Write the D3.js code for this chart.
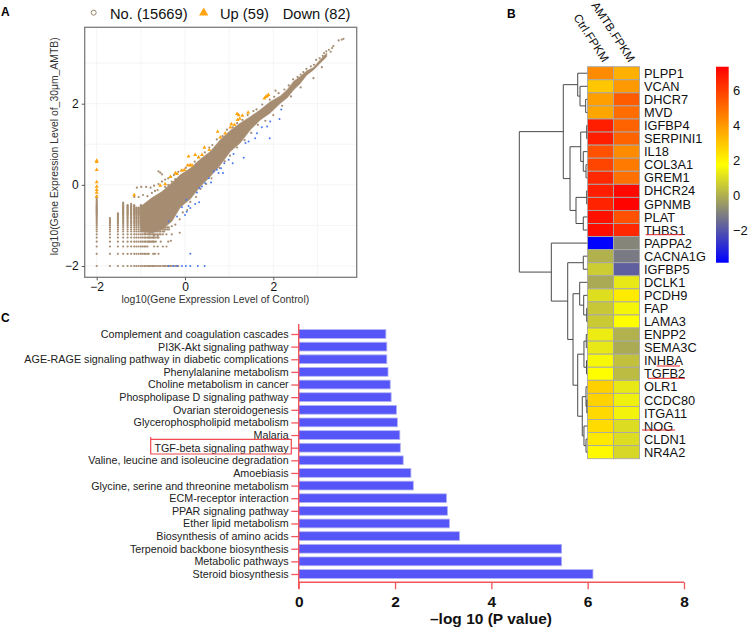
<!DOCTYPE html>
<html>
<head>
<meta charset="utf-8">
<script src="https://cdn.jsdelivr.net/npm/d3@7.9.0/dist/d3.min.js"></script>
<style>
  html, body { margin: 0; background: #fff; }
  svg { display: block; font-family: "Liberation Sans", Arial, sans-serif; }
</style>
</head>
<body>
<svg id="fig" width="749" height="629"></svg>
<script>
// panel A: scatter
const densityX = [-1.0, -0.75, -0.52, -0.295, -0.106, 0.12, 0.347, 0.573, 0.8, 1.026, 1.25, 1.48, 1.705, 1.93, 2.16, 2.31, 2.46, 2.61, 2.76, 2.91, 3.06, 3.21];
const densityLow = [-1.15, -1.18, -1.1, -0.9, -0.55, -0.35, -0.04, 0.205, 0.49, 0.82, 1.03, 1.355, 1.6, 1.77, 2.01, 2.14, 2.34, 2.5, 2.71, 2.83, 3.0, 3.16];
const densityHigh = [-0.53, -0.32, -0.165, 0.05, 0.246, 0.41, 0.63, 0.82, 1.11, 1.34, 1.52, 1.68, 1.85, 2.05, 2.19, 2.34, 2.55, 2.67, 2.81, 2.89, 3.08, 3.25];

const latticeCols = [-2, -1.7, -1.52, -1.4, -1.3, -1.22, -1.15, -1.1, -1.05, -1.0];
const latticeColTop = [-0.28, -0.82, -0.7, -0.43, -0.5, -0.45, -0.5, -0.55, -0.55, -0.5];
const latticeRows = [-2, -1.7, -1.52, -1.4, -1.3, -1.22, -1.15, -1.1, -1.05, -1.0, -0.96, -0.92, -0.89, -0.85, -0.82, -0.8, -0.77, -0.74, -0.72, -0.7, -0.68, -0.66, -0.64, -0.62, -0.6, -0.58, -0.56, -0.54, -0.52, -0.5, -0.47, -0.44, -0.41, -0.38, -0.35, -0.32, -0.28];
const rowExtraX = [-0.96, -0.92, -0.89, -0.85, -0.82, -0.8, -0.77, -0.74, -0.72, -0.7, -0.66, -0.62, -0.58, -0.55, -0.5, -0.47, -0.44, -0.4, -0.37, -0.33, -0.3, -0.26, -0.22, -0.18, -0.15];
const rowExtraMax = [[-2, -0.15], [-1.7, -0.82], [-1.52, -0.85], [-1.4, -0.64], [-1.3, -0.6], [-1.22, -0.52], [-1.15, -0.47], [-1.1, -0.4], [-1.05, -0.35]];

const brownDots = [
  [-1.09, -0.07], [-0.99, -0.05], [-0.88, -0.05], [-0.78, -0.07], [-0.62, -0.13], [-0.6, 0.33], [-0.56, 0.3], [-0.52, 0.26],
  [-1.15, -0.3], [-1.05, -0.3], [-0.95, -0.25], [-0.85, -0.28], [-0.75, -0.2], [-0.68, -0.15], [-0.7, -0.02], [-0.6, 0.02],
  [-0.52, 0.08], [-0.45, 0.13], [-0.38, 0.16], [-0.32, 0.2], [-0.25, 0.24], [-0.15, 0.32], [-0.08, 0.36], [0.02, 0.42],
  [0.1, 0.48], [0.22, 0.57], [0.3, 0.68], [0.45, 0.8], [0.55, 0.92], [0.62, 0.98], [0.72, 1.12], [0.85, 1.2],
  [0.95, 1.36], [1.08, 1.42], [1.18, 1.52], [1.3, 1.6], [1.42, 1.72], [1.55, 1.82], [1.62, 1.86], [1.75, 1.98],
  [1.92, 2.1], [2.02, 2.17], [2.05, 2.32], [2.12, 2.26], [2.25, 2.35], [2.35, 2.45], [2.45, 2.6], [2.55, 2.66],
  [2.62, 2.72], [2.68, 2.78], [2.75, 2.86], [2.85, 2.92], [2.92, 2.96], [2.97, 3.08], [3.05, 3.12], [3.12, 3.18],
  [3.15, 3.25], [3.2, 3.29], [3.26, 3.33], [3.33, 3.37], [3.36, 3.42], [3.48, 3.56], [3.55, 3.58], [3.59, 3.6],
  [3.3, 3.28], [3.1, 2.9], [2.91, 2.63], [2.62, 2.4], [2.4, 2.18], [2.2, 1.95], [2.0, 1.72], [1.82, 1.58],
  [1.65, 1.48], [1.5, 1.28], [1.35, 1.1], [1.18, 0.92], [1.02, 0.72], [0.9, 0.58], [0.78, 0.42], [0.6, 0.16],
  [0.48, 0.02], [0.35, -0.1], [0.25, -0.3], [0.12, -0.42], [0.05, -0.62], [-0.05, -0.68], [-0.12, -0.85], [-0.22, -0.98],
  [-0.12, -1.18], [-0.3, -1.02], [-0.36, -1.1], [-0.42, -1.22], [-0.3, -1.22], [-0.5, -1.22], [-0.6, -1.3], [-0.55, -1.4],
  [-0.62, -1.25], [-0.7, -1.25], [-0.8, -1.22], [-0.9, -1.2], [-0.38, -1.4], [-0.32, -1.38], [-0.5, -1.52], [-0.42, -1.52],
  [-0.7, -1.52], [-0.62, -1.52], [-0.72, -1.7], [-0.68, -1.7], [-0.6, -1.7], [-0.92, -0.52], [-0.85, -0.45], [-0.78, -0.4],
  [-0.68, -0.32], [-0.55, -0.25], [-0.45, -0.05], [-0.38, 0.0], [-0.3, 0.08], [-0.22, 0.14]
];

const upDots = [
  [-2, 0.6], [-2, 0.57], [-2, 0.37], [-2, 0.07], [-2, -0.04], [-2, -0.12], [-2, -0.19], [-2, -0.29],
  [-1.15, -0.25], [-0.56, -0.02], [-0.45, 0.02], [-0.33, 0.2], [-0.22, 0.29], [-0.18, 0.27], [-0.07, 0.35], [-0.015, 0.37],
  [0.06, 0.48], [0.12, 0.49], [0.16, 0.48], [0.08, 0.7], [0.23, 0.74], [0.31, 0.68], [0.385, 0.74], [0.44, 0.92],
  [0.55, 0.86], [0.74, 1.31], [0.8, 1.17], [0.91, 1.27], [1.03, 1.42], [1.05, 1.5], [1.12, 1.48], [1.18, 1.75],
  [1.215, 1.72], [1.19, 1.6], [1.24, 1.63], [1.3, 1.71], [1.43, 1.78], [1.8, 2.13], [1.86, 2.19], [1.89, 2.22], [1.83, 2.17]
];

const downDots = [
  [-0.37, -2], [-0.26, -2], [-0.18, -2], [-0.07, -2], [0.02, -2], [0.12, -2], [0.29, -2], [0.445, -2], [0.12, -1.7],
  [-0.37, -0.9], [-0.18, -0.78], [0.0, -0.74], [0.04, -0.66], [-0.07, -0.55], [0.08, -0.52], [0.12, -0.57], [0.03, -0.37],
  [0.23, -0.47], [0.32, -0.43], [0.27, -0.19], [0.33, -0.08], [0.385, -0.04], [0.46, 0.04], [0.54, 0.16], [0.59, 0.06],
  [0.65, 0.33], [0.72, 0.37], [0.76, 0.29], [0.815, 0.41], [0.86, 0.29], [0.89, 0.53], [0.99, 0.62], [1.08, 0.53],
  [1.1, 0.76], [1.33, 0.67], [1.37, 1.03], [1.44, 1.07], [1.59, 1.15], [1.63, 1.27], [1.74, 1.42], [1.86, 1.44],
  [1.92, 1.15], [1.93, 1.56], [2.14, 1.62], [2.18, 1.86]
];

const scatterTicks = [-2, 0, 2];
const scatterGrid = [-2, -1, 0, 1, 2, 3];

// panel B: heatmap
const genes = ['PLPP1', 'VCAN', 'DHCR7', 'MVD', 'IGFBP4', 'SERPINI1', 'IL18', 'COL3A1', 'GREM1', 'DHCR24', 'GPNMB', 'PLAT', 'THBS1', 'PAPPA2', 'CACNA1G', 'IGFBP5', 'DCLK1', 'PCDH9', 'FAP', 'LAMA3', 'ENPP2', 'SEMA3C', 'INHBA', 'TGFB2', 'OLR1', 'CCDC80', 'ITGA11', 'NOG', 'CLDN1', 'NR4A2'];
const ctrlValues = [4.3, 3.0, 3.85, 3.75, 6.7, 6.7, 5.6, 5.85, 6.5, 6.7, 6.6, 7.0, 7.1, -3.8, 0.05, 0.65, -0.1, 1.05, 0.55, 0.6, 1.35, 1.27, 1.6, 1.75, 2.8, 2.75, 2.6, 2.55, 2.25, 1.9];
const amtbValues = [3.5, 4.0, 5.35, 5.0, 5.2, 5.2, 4.3, 4.7, 4.9, 7.2, 7.3, 5.6, 6.5, -0.9, -1.15, -1.75, 1.27, 2.2, 1.55, 1.77, 0.05, -0.07, 0.4, 0.3, 1.27, 1.45, 1.5, 1.0, 1.0, 0.9];
const heatColumns = ['Ctrl.FPKM', 'AMTB.FPKM'];
const underlined = ['THBS1', 'INHBA', 'TGFB2', 'NOG'];
const colorTicks = [6, 4, 2, 0, -2];
const colorDomain = [-3.83, 1.77, 7.37];

// merge heights, [height, left, right], leaves are gene names
const geneTree = [100,
  [35.3,
    [14.1, 'PLPP1', [10.7, 'VCAN', [2.4, 'DHCR7', 'MVD']]],
    [25.4,
      [9.7, [0.9, 'IGFBP4', 'SERPINI1'], [5.9, 'IL18', [1.9, 'COL3A1', 'GREM1']]],
      [16.6, [0.9, 'DHCR24', 'GPNMB'], [5.9, 'PLAT', 'THBS1']]]],
  [52.9,
    'PAPPA2',
    [28.8,
      [5.9, 'CACNA1G', 'IGFBP5'],
      [21,
        [11.2, 'DCLK1', [5.3, 'PCDH9', [0.9, 'FAP', 'LAMA3']]],
        [14.1,
          [4.9, [1.5, 'ENPP2', 'SEMA3C'], [1.2, 'INHBA', 'TGFB2']],
          [7.4,
            [1.9, 'OLR1', [0.7, 'CCDC80', 'ITGA11']],
            [4.9, 'NOG', [1.9, 'CLDN1', 'NR4A2']]]]]]]];

// panel C: pathways
const pathways = ['Complement and coagulation cascades', 'PI3K-Akt signaling pathway', 'AGE-RAGE signaling pathway in diabetic complications', 'Phenylalanine metabolism', 'Choline metabolism in cancer', 'Phospholipase D signaling pathway', 'Ovarian steroidogenesis', 'Glycerophospholipid metabolism', 'Malaria', 'TGF-beta signaling pathway', 'Valine, leucine and isoleucine degradation', 'Amoebiasis', 'Glycine, serine and threonine metabolism', 'ECM-receptor interaction', 'PPAR signaling pathway', 'Ether lipid metabolism', 'Biosynthesis of amino acids', 'Terpenoid backbone biosynthesis', 'Metabolic pathways', 'Steroid biosynthesis'];
const pValues = [1.81, 1.83, 1.83, 1.855, 1.9, 1.92, 2.03, 2.05, 2.1, 2.11, 2.17, 2.33, 2.38, 3.07, 3.09, 3.13, 3.34, 5.46, 5.46, 6.11];
const pTicks = [0, 2, 4, 6, 8];

const svg = d3.select('#fig');
const minus = (d) => String(d).replace('-', '\u2212');

function panelLetter(text, x, y) {
  svg.append('text').attr('x', x).attr('y', y).attr('font-size', 12).attr('font-weight', 'bold').text(text);
}
panelLetter('A', 1, 16);
panelLetter('B', 507, 18);
panelLetter('C', 1, 322);

/* ---------- A ---------- */
const brown = '#a68d72';
const xA = d3.scaleLinear().domain([-2, 2]).range([96.7, 273.3]);
const yA = d3.scaleLinear().domain([-2, 2]).range([266, 103.7]);
const boxA = { left: 84.7, right: 356.7, top: 27.3, bottom: 277.3 };
const gA = svg.append('g');

gA.selectAll('.gv').data(scatterGrid).join('line')
  .attr('x1', xA).attr('x2', xA).attr('y1', boxA.top).attr('y2', boxA.bottom)
  .attr('stroke', '#f0f0f0').attr('stroke-width', 0.7);
gA.selectAll('.gh').data(scatterGrid.map((d) => d + 0.001)).join('line')
  .attr('y1', yA).attr('y2', yA).attr('x1', boxA.left).attr('x2', boxA.right)
  .attr('stroke', '#f0f0f0').attr('stroke-width', 0.7);

// integer-count lattice at the low end
const lattice = [];
latticeCols.forEach((x, i) => {
  latticeRows.forEach((y) => {
    if (y <= latticeColTop[i]) lattice.push([x, y]);
  });
});
rowExtraMax.forEach(([y, maxX]) => {
  latticeCols.concat(rowExtraX).forEach((x) => {
    if (x > -1.0 && x <= maxX) lattice.push([x, y]);
  });
});

const dotR = 1.1;
gA.append('g').selectAll('circle').data(lattice.concat(brownDots)).join('circle')
  .attr('cx', (d) => xA(d[0])).attr('cy', (d) => yA(d[1])).attr('r', dotR).attr('fill', brown);

const band = d3.area().x((d) => xA(d)).y0((d, i) => yA(densityLow[i])).y1((d, i) => yA(densityHigh[i])).curve(d3.curveLinear);
gA.append('path').attr('d', band(densityX)).attr('fill', brown).attr('stroke', brown).attr('stroke-width', 0.6);

const triangle = d3.symbol().type(d3.symbolTriangle).size(7);
gA.append('g').selectAll('path').data(upDots).join('path')
  .attr('d', triangle).attr('fill', '#ffa40f')
  .attr('transform', (d) => `translate(${xA(d[0])},${yA(d[1])})`);
gA.append('g').selectAll('circle').data(downDots).join('circle')
  .attr('cx', (d) => xA(d[0])).attr('cy', (d) => yA(d[1])).attr('r', 1).attr('fill', '#4a78ee');

gA.append('rect').attr('x', boxA.left).attr('y', boxA.top)
  .attr('width', boxA.right - boxA.left).attr('height', boxA.bottom - boxA.top)
  .attr('fill', 'none').attr('stroke', '#7c7c7c').attr('stroke-width', 1.3);

const axAx = gA.append('g').attr('transform', `translate(0,${boxA.bottom})`)
  .call(d3.axisBottom(xA).tickValues(scatterTicks).tickSize(3).tickPadding(2).tickFormat(minus));
const axAy = gA.append('g').attr('transform', `translate(${boxA.left},0)`)
  .call(d3.axisLeft(yA).tickValues(scatterTicks).tickSize(3).tickPadding(3).tickFormat(minus));
[axAx, axAy].forEach((a) => {
  a.select('.domain').remove();
  a.selectAll('line').attr('stroke', '#555');
  a.selectAll('text').attr('font-size', 12).attr('font-family', 'inherit').attr('fill', '#111');
});

gA.append('text').attr('x', 215.3).attr('y', 303).attr('text-anchor', 'middle')
  .attr('font-size', 10.4).attr('fill', '#333').text('log10(Gene Expression Level of Control)');
gA.append('text').attr('transform', 'translate(58,146.3) rotate(-90)').attr('text-anchor', 'middle')
  .attr('font-size', 10.4).attr('fill', '#333').text('log10(Gene Expression Level of_30\u03bcm_AMTB)');

// legend row
gA.append('circle').attr('cx', 93.7).attr('cy', 12.7).attr('r', 2.5)
  .attr('fill', 'none').attr('stroke', '#8f7a5e').attr('stroke-width', 0.9);
gA.append('path').attr('d', d3.symbol().type(d3.symbolTriangle).size(38))
  .attr('transform', 'translate(203.7,12.8)').attr('fill', '#ffa40f');
[['No. (15669)', 110], ['Up (59)', 220], ['Down (82)', 282.7]].forEach(([t, x]) => {
  gA.append('text').attr('x', x).attr('y', 18.5).attr('font-size', 14.7).attr('fill', '#111').text(t);
});

/* ---------- B ---------- */
const gB = svg.append('g');
const yB = d3.scaleBand().domain(genes).range([66.7, 458.7]);
const xB = d3.scaleBand().domain(heatColumns).range([587.5, 639.5]);
const heatColor = d3.scaleLinear().domain(colorDomain).range(['#0000ff', '#ffff00', '#ff0000']);

heatColumns.forEach((col, c) => {
  const vals = c === 0 ? ctrlValues : amtbValues;
  gB.append('g').selectAll('rect').data(genes).join('rect')
    .attr('x', xB(col)).attr('y', (d) => yB(d))
    .attr('width', xB.bandwidth()).attr('height', yB.bandwidth())
    .attr('fill', (d, i) => heatColor(vals[i]))
    .attr('stroke', '#a8a8a8').attr('stroke-width', 0.9);
});

gB.selectAll('.collabel').data(heatColumns).join('text')
  .attr('transform', (d) => `translate(${xB(d) + xB.bandwidth() / 2 + 5},61) rotate(57)`)
  .attr('text-anchor', 'end').attr('font-size', 11.8).attr('fill', '#111').attr('dy', '0.3em').text((d) => d);

gB.selectAll('.genelabel').data(genes).join('text')
  .attr('x', 644).attr('y', (d) => yB(d) + yB.bandwidth() / 2 + 4.6)
  .attr('font-size', 12.8).attr('fill', '#111').text((d) => d);

// red hand-drawn underlines, [x0, x1] relative to label
const underlineSpans = { THBS1: [645.7, 682.7, 234.7], INHBA: [656.7, 680, 366], TGFB2: [648, 685, 378.3], NOG: [642, 675, 430] };
underlined.forEach((g) => {
  const [x0, x1, y] = underlineSpans[g];
  gB.append('line').attr('x1', x0).attr('x2', x1).attr('y1', y).attr('y2', y)
    .attr('stroke', '#e8222a').attr('stroke-width', 1);
});

// dendrogram
const root = d3.hierarchy(geneTree, (d) => (Array.isArray(d) ? d.slice(1) : null));
const xTree = d3.scaleLinear().domain([0, 100]).range([587.3, 519.3]);
root.eachAfter((n) => {
  if (n.children) {
    n.yPos = d3.mean(n.children, (c) => c.yPos);
    n.xPos = xTree(n.data[0]);
  } else {
    n.yPos = yB(n.data) + yB.bandwidth() / 2;
    n.xPos = xTree(0);
  }
});
const treePath = d3.path();
root.descendants().filter((n) => n.children).forEach((n) => {
  const [a, b] = n.children;
  treePath.moveTo(a.xPos, a.yPos);
  treePath.lineTo(n.xPos, a.yPos);
  treePath.lineTo(n.xPos, b.yPos);
  treePath.lineTo(b.xPos, b.yPos);
});
gB.append('path').attr('d', treePath.toString()).attr('fill', 'none').attr('stroke', '#4a4a4a').attr('stroke-width', 1);

// colour bar
const yBar = d3.scaleLinear().domain([-2, 6]).range([230.7, 90.7]);
const defs = svg.append('defs');
const grad = defs.append('linearGradient').attr('id', 'heatgrad').attr('x1', 0).attr('x2', 0).attr('y1', 1).attr('y2', 0);
colorDomain.forEach((v, i) => {
  grad.append('stop').attr('offset', `${i * 50}%`).attr('stop-color', heatColor(v));
});
gB.append('rect').attr('x', 716).attr('width', 12.7)
  .attr('y', yBar(colorDomain[2])).attr('height', yBar(colorDomain[0]) - yBar(colorDomain[2]))
  .attr('fill', 'url(#heatgrad)');
gB.selectAll('.cbtick').data(colorTicks).join('text')
  .attr('x', 733).attr('y', (d) => yBar(d) + 4.7)
  .attr('font-size', 13).attr('fill', '#111').text(minus);

/* ---------- C ---------- */
const gC = svg.append('g');
const red = '#f4555a';
const xC = d3.scaleLinear().domain([0, 8]).range([298.7, 684]);
const yC = d3.scalePoint().domain(pathways).range([334, 574]);

gC.selectAll('rect').data(pathways).join('rect')
  .attr('x', xC(0)).attr('y', (d) => yC(d) - 4.4)
  .attr('width', (d, i) => xC(pValues[i]) - xC(0)).attr('height', 8.8)
  .attr('fill', '#5656f8').attr('stroke', '#b4b4f4').attr('stroke-width', 0.8);

const axCx = gC.append('g').attr('transform', 'translate(0,582.3)')
  .call(d3.axisBottom(xC).tickValues(pTicks).tickSize(7).tickPadding(7).tickFormat(d3.format('d')));
const axCy = gC.append('g').attr('transform', `translate(${xC(0)},0)`)
  .call(d3.axisLeft(yC).tickSize(7.4).tickPadding(2.6));
axCx.select('.domain').attr('d', `M${xC(0)},0H${xC(8)}`).attr('stroke', red).attr('stroke-width', 1.4);
axCy.select('.domain').attr('d', 'M0,324V589').attr('stroke', red).attr('stroke-width', 1.4);
[axCx, axCy].forEach((a) => a.selectAll('line').attr('stroke', red).attr('stroke-width', 1.3));
axCx.selectAll('text').attr('font-size', 15.5).attr('font-weight', 'bold').attr('font-family', 'inherit').attr('fill', '#111');
axCy.selectAll('text').attr('font-size', 10.74).attr('font-family', 'inherit').attr('fill', '#222');

gC.append('text').attr('x', 491).attr('y', 624).attr('text-anchor', 'middle')
  .attr('font-size', 15.5).attr('font-weight', 'bold').attr('fill', '#111').text('\u2013log 10 (P value)');

// box around the TGF-beta label
gC.append('path').attr('d', 'M150.7,437V454H291.3V439.3H150.7')
  .attr('fill', 'none').attr('stroke', '#f0484e').attr('stroke-width', 1.2);
</script>
</body>
</html>
